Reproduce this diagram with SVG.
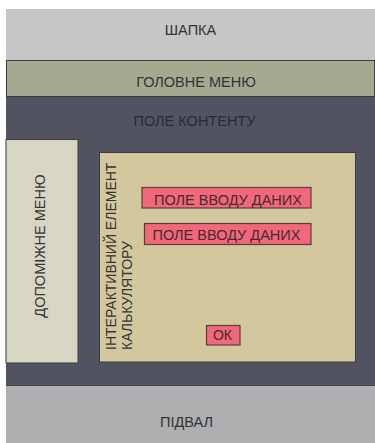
<svg xmlns="http://www.w3.org/2000/svg" width="375" height="443" viewBox="0 0 375 443">
<style>
text{font-family:"Liberation Sans",Arial,sans-serif;font-size:14.5px;fill:#333436;}
.c{text-anchor:middle;}
.box{stroke:#3b3c42;stroke-width:1;}
.inp{fill:#f0687a;stroke:#5a3c40;stroke-width:1.2;}
.inp-t{fill:#4a2a2e;}
</style>
<rect width="375" height="443" fill="#ffffff"/>
<g id="header">
<rect x="6" y="9" width="369" height="51" fill="#c5c6c5"/>
<text class="c" x="190.5" y="35">ШАПКА</text>
</g>
<g id="main-menu">
<rect x="6.5" y="60.5" width="368" height="36" fill="#a6a98f" class="box"/>
<text class="c" x="196" y="87">ГОЛОВНЕ МЕНЮ</text>
</g>
<g id="content">
<rect x="6" y="97" width="369" height="288" fill="#515360"/>
<text class="c" x="194.5" y="126" style="fill:#2a2b30">ПОЛЕ КОНТЕНТУ</text>
</g>
<g id="side-menu">
<rect x="6" y="139.5" width="72" height="223.5" fill="#d7d6c2" class="box"/>
<text class="c" transform="translate(45,246) rotate(-90)">ДОПОМІЖНЕ МЕНЮ</text>
</g>
<g id="calculator">
<rect x="99.5" y="152.5" width="256" height="209.5" fill="#d2c79d" class="box"/>
<text transform="translate(115.5,350) rotate(-90)" style="font-size:14px">ІНТЕРАКТИВНИЙ ЕЛЕМЕНТ</text>
<text transform="translate(131.5,350) rotate(-90)" style="font-size:14px">КАЛЬКУЛЯТОРУ</text>
</g>
<g id="input-1">
<rect x="142" y="187.5" width="169" height="20.5" class="inp"/>
<text class="c inp-t" x="228" y="204.5">ПОЛЕ ВВОДУ ДАНИХ</text>
</g>
<g id="input-2">
<rect x="144.5" y="223.5" width="166.5" height="21" class="inp"/>
<text class="c inp-t" x="226.5" y="240">ПОЛЕ ВВОДУ ДАНИХ</text>
</g>
<g id="ok-button">
<rect x="206.5" y="325.5" width="33.5" height="19.5" class="inp"/>
<text class="c inp-t" x="222.5" y="340" style="font-size:14px">ОК</text>
</g>
<g id="footer">
<rect x="6" y="385" width="369" height="58" fill="#aeafb0"/>
<line x1="6" y1="385.5" x2="375" y2="385.5" stroke="#45464c" stroke-width="1"/>
<text class="c" x="186.5" y="426.5">ПІДВАЛ</text>
</g>
<g id="connectors"></g>
</svg>
